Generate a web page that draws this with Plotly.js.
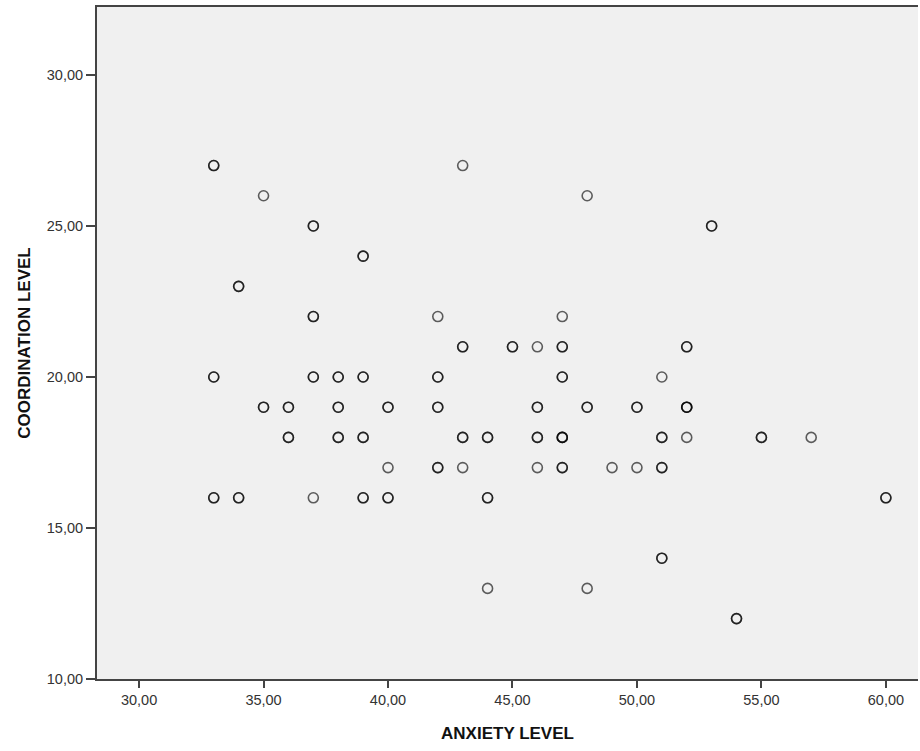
<!DOCTYPE html>
<html>
<head>
<meta charset="utf-8">
<script src="https://cdn.plot.ly/plotly-3.0.1.min.js"></script>
<style>html,body{margin:0;padding:0;background:#fff;}#chart{width:920px;height:751px;}</style>
</head>
<body>
<div id="chart"></div>
<script>
// Points: [anxiety, coordination, count of overlapping cases]
const anxiety =      [33,33,33, 34,34, 35,35, 36,36, 37,37,37,37, 38,38,38, 39,39,39,39, 40,40,40, 42,42,42,42, 43,43,43,43, 44,44,44, 45, 46,46,46,46, 47,47,47,47,47, 48,48,48, 49, 50,50, 51,51,51,51, 52,52,52, 53, 54, 55, 57, 60];
const coordination = [27,20,16, 23,16, 26,19, 19,18, 25,22,20,16, 20,19,18, 24,20,18,16, 19,17,16, 22,20,19,17, 27,21,18,17, 18,16,13, 21, 21,19,18,17, 22,21,20,18,17, 26,19,13, 17, 19,17, 20,18,17,14, 21,19,18, 25, 12, 18, 18, 16];
const caseCount =    [ 2, 2, 2,  2, 2,  1, 2,  2, 2,  2, 2, 2, 1,  2, 2, 2,  2, 2, 2, 2,  2, 1, 2,  1, 2, 2, 2,  1, 2, 2, 1,  2, 2, 1,  2,  1, 2, 2, 1,  1, 2, 2, 3, 2,  1, 2, 1,  1,  2, 1,  1, 2, 2, 2,  2, 3, 1,  2,  2,  2,  1,  2];
const xTicks = [30,35,40,45,50,55,60];
const yTicks = [10,15,20,25,30];
const fmt = v => v.toFixed(2).replace('.', ',');

// expand overlapping cases so that repeated circles darken, as in the original
const xs = [], ys = [];
anxiety.forEach((a, i) => { for (let k = 0; k < caseCount[i]; k++) { xs.push(a); ys.push(coordination[i]); } });

const trace = {
  type: 'scatter', mode: 'markers', x: xs, y: ys,
  marker: {symbol: 'circle-open', size: 10, color: 'rgba(0,0,0,0.62)', line: {width: 1.6, color: 'rgba(0,0,0,0.62)'}},
  hoverinfo: 'x+y'
};

const FONT = 'Arial, "Liberation Sans", sans-serif';
const layout = {
  width: 920, height: 751,
  margin: {l: 97, r: 2, t: 7, b: 72},
  paper_bgcolor: '#ffffff', plot_bgcolor: '#f0f0f0',
  showlegend: false,
  font: {family: FONT, size: 14, color: '#333'},
  xaxis: {
    range: [28.31, 61.29], showgrid: false, zeroline: false,
    showline: true, linecolor: '#444', linewidth: 2, mirror: true,
    ticks: 'outside', ticklen: 7, tickwidth: 2, tickcolor: '#444',
    tickvals: xTicks, ticktext: xTicks.map(fmt),
    tickfont: {size: 14.5, color: '#333'},
    title: {text: 'ANXIETY LEVEL', font: {size: 17, color: '#111', family: FONT, weight: 'bold'}, standoff: 20}
  },
  yaxis: {
    range: [10, 32.25], showgrid: false, zeroline: false,
    showline: true, linecolor: '#444', linewidth: 2,
    ticks: 'outside', ticklen: 9, tickwidth: 2, tickcolor: '#444',
    tickvals: yTicks, ticktext: yTicks.map(fmt),
    tickfont: {size: 14.5, color: '#333'},
    title: {text: 'COORDINATION LEVEL', font: {size: 17, color: '#111', family: FONT, weight: 'bold'}, standoff: 12}
  }
};

Plotly.newPlot('chart', [trace], layout, {displayModeBar: false, staticPlot: true});
</script>
</body>
</html>
